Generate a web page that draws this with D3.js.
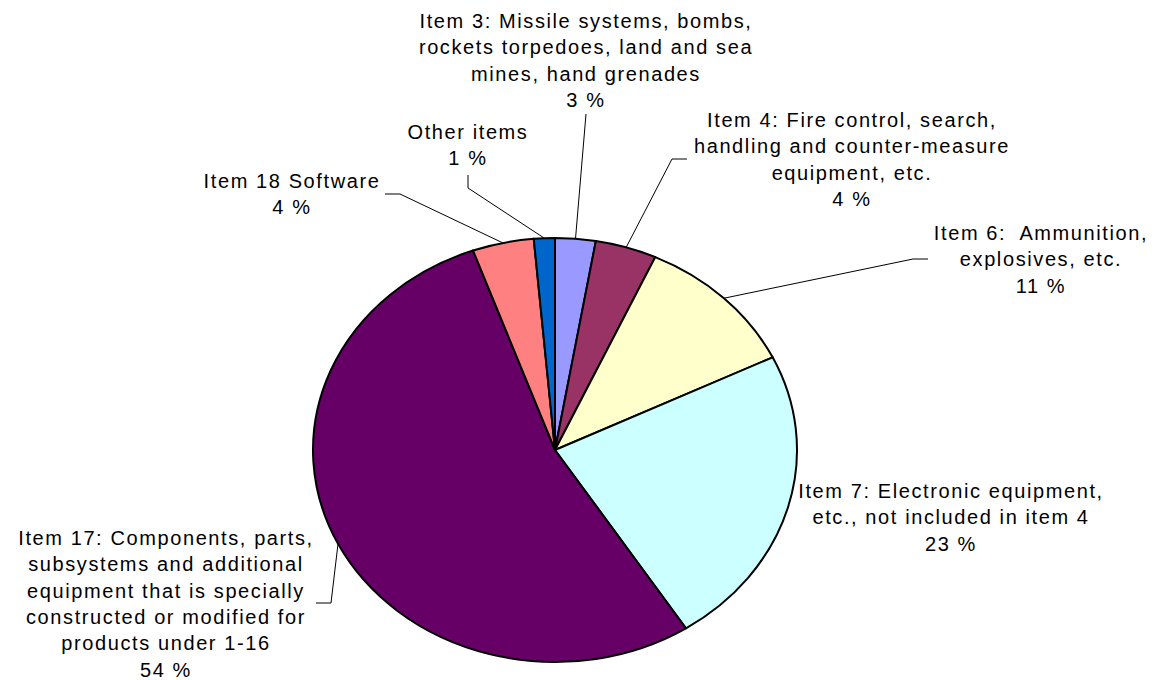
<!DOCTYPE html>
<html>
<head>
<meta charset="utf-8">
<script src="https://cdn.jsdelivr.net/npm/d3@7"></script>
<style>
  html, body { margin: 0; padding: 0; background: #fff; }
  svg text { font-family: "Liberation Sans", Arial, sans-serif; font-size: 20px; fill: #000; letter-spacing: 1.6px; }
</style>
</head>
<body>
<div id="chart"></div>
<script>
// data, clockwise from 12 o'clock
const categories = ["Item 3", "Item 4", "Item 6", "Item 7", "Item 17", "Item 18", "Other items"];
const shares = [2.7, 4.1, 11.0, 23.1, 53.6, 4.1, 1.4];
const labelLines = [
  ["Item 3: Missile systems, bombs,", "rockets torpedoes, land and sea", "mines, hand grenades"],
  ["Item 4: Fire control, search,", "handling and counter-measure", "equipment, etc."],
  ["Item 6:  Ammunition,", "explosives, etc."],
  ["Item 7: Electronic equipment,", "etc., not included in item 4"],
  ["Item 17: Components, parts,", "subsystems and additional", "equipment that is specially", "constructed or modified for", "products under 1-16"],
  ["Item 18 Software"],
  ["Other items"]
];
const colors = ["#9999FF", "#993366", "#FFFFCC", "#CCFFFF", "#660066", "#FF8080", "#0066CC"];

(function(){
  const W = 1167, H = 680;
  const cx = 555, cy = 450, rx = 242, ry = 212;
  const lineH = 26.3;

  // label placement: centre x, first baseline, leader elbow points (null = no leader)
  const layout = [
    { x: 586, y: 28,  elbow: [[586, 114]] },
    { x: 852, y: 127, elbow: [[672, 159], [687, 159]] },
    { x: 1041, y: 240, elbow: [[913, 259], [928, 259]] },
    { x: 951, y: 498, elbow: null },
    { x: 166, y: 545, elbow: [[331, 603], [316, 603]] },
    { x: 292, y: 188, elbow: [[400, 194], [385, 194]] },
    { x: 468, y: 139, elbow: [[468, 188], [468, 175]] }
  ];

  const data = categories.map((c, i) => ({ name: c, value: shares[i], lines: labelLines[i], color: colors[i], pos: layout[i] }));

  const svg = d3.select("#chart").append("svg")
    .attr("width", W).attr("height", H);

  const pie = d3.pie().sort(null).value(d => d.value);
  const arcs = pie(data);
  const arc = d3.arc().innerRadius(0).outerRadius(ry);

  const g = svg.append("g")
    .attr("transform", `translate(${cx},${cy}) scale(${rx / ry},1)`);

  g.selectAll("path")
    .data(arcs)
    .enter().append("path")
    .attr("d", arc)
    .attr("fill", d => d.data.color)
    .attr("stroke", "#000")
    .attr("stroke-width", 2)
    .attr("stroke-linejoin", "round")
    .attr("vector-effect", "non-scaling-stroke");

  const edge = a => [cx + rx * Math.sin(a), cy - ry * Math.cos(a)];

  // leader lines
  const line = d3.line();
  arcs.forEach(d => {
    if (!d.data.pos.elbow) return;
    const p0 = edge((d.startAngle + d.endAngle) / 2);
    svg.append("path")
      .attr("d", line([p0, ...d.data.pos.elbow]))
      .attr("fill", "none")
      .attr("stroke", "#000")
      .attr("stroke-width", 1);
  });

  const pct = d3.format(".0f");

  // labels
  arcs.forEach(d => {
    const p = d.data.pos;
    const t = svg.append("text").attr("text-anchor", "middle");
    const rows = [...d.data.lines, pct(d.data.value) + " %"];
    rows.forEach((s, k) => {
      t.append("tspan")
        .attr("x", p.x)
        .attr("y", p.y + k * lineH)
        .style("white-space", "pre")
        .text(s);
    });
  });
})();
</script>
</body>
</html>
